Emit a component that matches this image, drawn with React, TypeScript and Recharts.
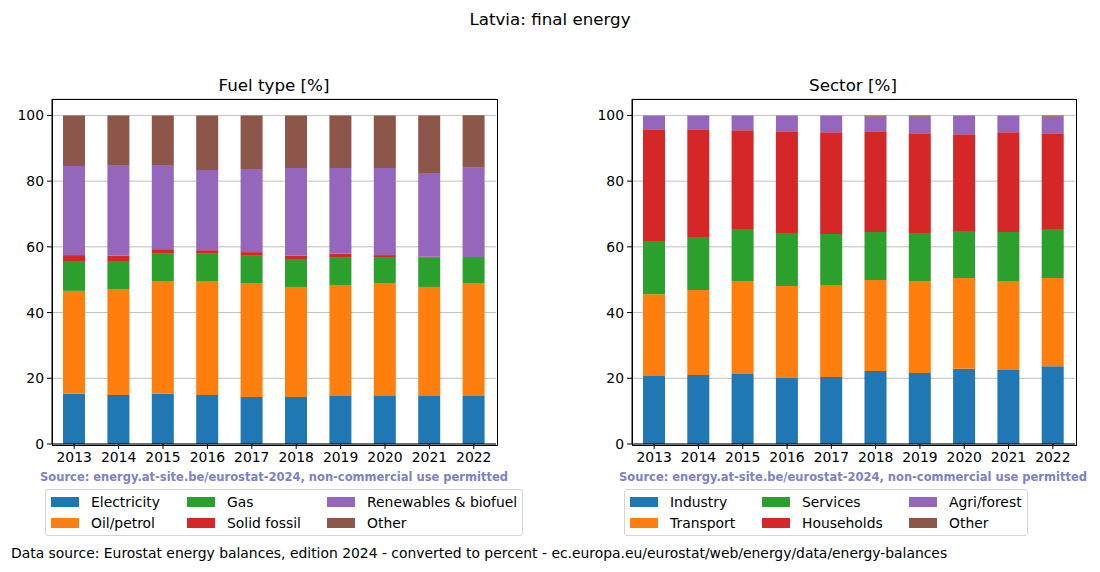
import { BarChart, Bar, XAxis, YAxis, CartesianGrid } from 'recharts';

const years = ['2013', '2014', '2015', '2016', '2017', '2018', '2019', '2020', '2021', '2022'];
const yTicks = [0, 20, 40, 60, 80, 100];

// fuel type shares [%]
const electricity = [15.3, 14.9, 15.3, 14.9, 14.3, 14.3, 14.6, 14.6, 14.6, 14.6];
const oilPetrol = [31.3, 32.3, 34.3, 34.7, 34.7, 33.5, 33.8, 34.2, 33.2, 34.4];
const gas = [9.1, 8.5, 8.5, 8.5, 8.5, 8.5, 8.5, 8.1, 8.9, 7.9];
const solidFossil = [1.8, 1.6, 1.2, 0.9, 0.9, 1.0, 1.0, 0.6, 0.3, 0.05];
const renewables = [27.1, 27.6, 25.6, 24.4, 25.3, 26.7, 26.1, 26.5, 25.5, 27.1];
const fuelOther = [15.4, 15.1, 15.1, 16.6, 16.3, 16.0, 16.0, 16.0, 17.5, 16.0];

// sector shares [%]
const industry = [20.7, 21.0, 21.3, 20.1, 20.4, 22.2, 21.6, 22.9, 22.5, 23.7];
const transport = [24.9, 25.9, 28.3, 28.0, 28.0, 27.7, 28.0, 27.6, 27.1, 26.8];
const services = [16.2, 16.1, 15.8, 16.1, 15.5, 14.6, 14.6, 14.3, 14.9, 14.9];
const households = [34.0, 32.8, 30.1, 31.0, 31.0, 30.7, 30.4, 29.5, 30.4, 29.2];
const agriForest = [4.2, 4.2, 4.5, 4.8, 5.1, 4.4, 5.0, 5.7, 5.1, 5.0];
const sectorOther = [0, 0, 0, 0, 0, 0.4, 0.4, 0, 0, 0.4];

const COLORS = ['#1f77b4', '#ff7f0e', '#2ca02c', '#d62728', '#9467bd', '#8c564b'];
const FONT = '"DejaVu Sans", sans-serif';

type Series = { name: string; values: number[] };

const fuelSeries: Series[] = [
  { name: 'Electricity', values: electricity },
  { name: 'Oil/petrol', values: oilPetrol },
  { name: 'Gas', values: gas },
  { name: 'Solid fossil', values: solidFossil },
  { name: 'Renewables & biofuel', values: renewables },
  { name: 'Other', values: fuelOther },
];

const sectorSeries: Series[] = [
  { name: 'Industry', values: industry },
  { name: 'Transport', values: transport },
  { name: 'Services', values: services },
  { name: 'Households', values: households },
  { name: 'Agri/forest', values: agriForest },
  { name: 'Other', values: sectorOther },
];

function toRows(series: Series[]) {
  return years.map((year, i) => {
    const row: Record<string, string | number> = { year };
    series.forEach((s, k) => {
      row['s' + k] = s.values[i];
    });
    return row;
  });
}

const tickStyle = { fontSize: 13.9, fill: '#000', fontFamily: FONT };

const CHART_W = 520;
const CHART_H = 480;
const M_TOP = 99;
const M_BOTTOM = 6;
const X_AXIS_H = 30;
const Y_AXIS_W = 40;

function StackedPanel({ series, left, marginLeft, marginRight }: {
  series: Series[];
  left: number;
  marginLeft: number;
  marginRight: number;
}) {
  // axes frame (matplotlib spines) drawn around the plot area
  const frameLeft = marginLeft + Y_AXIS_W;
  const frameWidth = CHART_W - marginRight - frameLeft;
  const frameHeight = CHART_H - M_BOTTOM - X_AXIS_H - M_TOP;
  return (
    <div style={{ position: 'absolute', left, top: 0, width: CHART_W, height: CHART_H }}>
      <BarChart
        width={CHART_W}
        height={CHART_H}
        data={toRows(series)}
        margin={{ top: M_TOP, right: marginRight, bottom: M_BOTTOM, left: marginLeft }}
        barSize={22}
      >
        <XAxis
          dataKey="year"
          tick={tickStyle}
          tickSize={5}
          tickMargin={3}
          height={X_AXIS_H}
          stroke="#000"
          interval={0}
        />
        <YAxis
          domain={[0, 105]}
          ticks={yTicks}
          tick={tickStyle}
          tickSize={5}
          tickMargin={3}
          width={Y_AXIS_W}
          stroke="#000"
          allowDataOverflow
        />
        {series.map((s, k) => (
          <Bar key={s.name} dataKey={'s' + k} name={s.name} stackId="a" fill={COLORS[k]} isAnimationActive={false} />
        ))}
        <CartesianGrid vertical={false} stroke="#b0b0b0" strokeWidth={0.8} />
      </BarChart>
      <div
        style={{
          position: 'absolute',
          left: frameLeft - 0.5,
          top: M_TOP - 0.5,
          width: frameWidth,
          height: frameHeight,
          border: '1px solid #000',
          pointerEvents: 'none',
        }}
      />
    </div>
  );
}

function LegendBox({ series, left, top, cols }: { series: Series[]; left: number; top: number; cols: number[] }) {
  return (
    <div
      style={{
        position: 'absolute',
        left,
        top,
        border: '1px solid #d5d5d5',
        borderRadius: 3,
        padding: '1px 5px 2px 5px',
        display: 'grid',
        gridAutoFlow: 'column',
        gridTemplateRows: 'repeat(2, 21px)',
        gridTemplateColumns: cols.map((c) => c + 'px').join(' ') + ' auto',
        fontFamily: FONT,
        fontSize: 13.9,
        background: '#fff',
      }}
    >
      {series.map((s, k) => (
        <div key={s.name} style={{ display: 'flex', alignItems: 'center', whiteSpace: 'nowrap' }}>
          <span style={{ width: 28, height: 10, background: COLORS[k], marginRight: 12, flex: 'none' }} />
          <span>{s.name}</span>
        </div>
      ))}
    </div>
  );
}

function Label({ text, x, y, size, align = 'center', bold = false, color = '#000' }: {
  text: string;
  x: number;
  y: number;
  size: number;
  align?: 'center' | 'left';
  bold?: boolean;
  color?: string;
}) {
  return (
    <div
      style={{
        position: 'absolute',
        left: x,
        top: y,
        transform: align === 'center' ? 'translate(-50%, -50%)' : 'translate(0, -50%)',
        fontFamily: FONT,
        fontSize: size,
        fontWeight: bold ? 'bold' : 'normal',
        color,
        whiteSpace: 'nowrap',
      }}
    >
      {text}
    </div>
  );
}

const SOURCE = 'Source: energy.at-site.be/eurostat-2024, non-commercial use permitted';

export default function App() {
  return (
    <div style={{ position: 'absolute', left: 0, top: 0, width: 1100, height: 572, background: '#fff', overflow: 'hidden' }}>
      <Label text="Latvia: final energy" x={550} y={19} size={16.7} />
      <Label text="Fuel type [%]" x={274} y={85} size={16.7} />
      <Label text="Sector [%]" x={853} y={85} size={16.7} />
      <StackedPanel series={fuelSeries} left={0} marginLeft={12} marginRight={24} />
      <StackedPanel series={sectorSeries} left={580} marginLeft={12} marginRight={25} />
      <Label text={SOURCE} x={274} y={477} size={11.5} bold color="#8080c8" />
      <Label text={SOURCE} x={853} y={477} size={11.5} bold color="#8080c8" />
      <LegendBox series={fuelSeries} left={45} top={489} cols={[136, 140]} />
      <LegendBox series={sectorSeries} left={624} top={489} cols={[132, 147]} />
      <Label
        text="Data source: Eurostat energy balances, edition 2024 - converted to percent - ec.europa.eu/eurostat/web/energy/data/energy-balances"
        x={11}
        y={553}
        size={13.9}
        align="left"
      />
    </div>
  );
}
